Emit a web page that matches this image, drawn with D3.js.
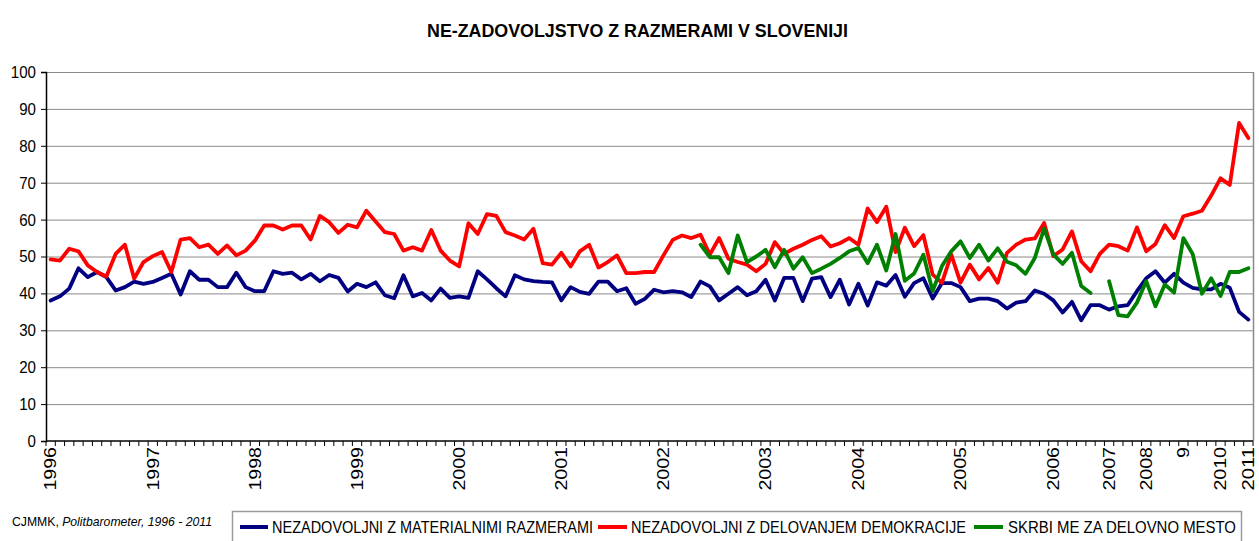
<!DOCTYPE html>
<html>
<head>
<meta charset="utf-8">
<script src="https://cdn.jsdelivr.net/npm/d3@7/dist/d3.min.js"></script>
<style>
  html, body { margin: 0; padding: 0; background: #fff; }
  svg { display: block; font-family: "Liberation Sans", Arial, sans-serif; }
</style>
</head>
<body>
<svg id="chart" width="1259" height="541"></svg>
<script>
// ---------- DATA ----------
const yearLabels = ["1996","1997","1998","1999","2000","2001","2002","2003","2004","2005","2006","2007","2008","9","2010","2011"];
const yearStart  = [0, 11, 22, 33, 44, 55, 66, 77, 87, 98, 108, 114, 118, 122, 126, 129];

const materialni = [
  38.1,39.2,41.3,46.8,44.4,45.8,44.4,40.8,41.7,43.2,42.6,43.1,44.2,45.3,39.7,46.0,43.7,43.7,41.7,41.7,
  45.6,41.7,40.6,40.6,46.0,45.3,45.6,43.8,45.3,43.3,45.0,44.2,40.5,42.6,41.7,43.0,39.5,38.7,44.9,39.2,
  40.1,38.1,41.3,38.8,39.2,38.8,46.0,43.8,41.4,39.2,44.9,43.8,43.3,43.1,43.0,38.1,41.7,40.4,39.9,43.2,
  43.2,40.6,41.4,37.2,38.5,41.0,40.3,40.6,40.3,39.0,43.2,41.9,38.1,39.9,41.7,39.5,40.6,43.7,38.1,44.2,
  44.2,37.9,44.0,44.4,39.0,43.7,37.0,42.6,36.7,43.0,42.1,45.0,39.1,42.8,44.1,38.6,42.8,42.8,41.7,37.9,
  38.6,38.6,37.9,35.9,37.5,37.9,40.8,39.9,38.1,34.8,37.7,32.7,36.8,36.8,35.6,36.5,36.8,40.6,44.1,46.0,
  42.9,45.3,42.9,41.5,41.1,41.1,42.6,41.5,35.0,32.9
];

const demokracija = [
  49.2,48.9,52.1,51.4,47.6,45.8,44.6,50.7,53.2,44.0,48.5,50.1,51.2,45.8,54.6,55.0,52.5,53.2,50.7,53.0,
  50.3,51.6,54.3,58.4,58.4,57.3,58.4,58.4,54.6,61.0,59.3,56.4,58.6,57.9,62.4,59.5,56.6,56.1,51.6,52.5,
  51.6,57.2,51.6,48.9,47.3,59.0,56.1,61.5,61.0,56.6,55.7,54.6,57.5,48.2,47.8,51.0,47.3,51.4,53.2,47.0,
  48.5,50.3,45.5,45.5,45.8,45.8,50.3,54.5,55.7,55.0,55.9,50.5,55.0,49.4,48.5,47.8,46.0,48.0,53.9,50.7,
  52.1,53.2,54.5,55.5,52.7,53.6,55.0,53.2,63.0,59.3,63.5,51.2,57.8,52.8,55.8,45.1,42.9,50.5,42.9,47.8,
  43.8,46.9,42.9,51.0,53.2,54.6,54.9,59.1,50.1,51.9,56.8,48.7,46.0,50.7,53.2,52.8,51.6,57.9,51.4,53.4,
  58.5,55.0,60.9,61.6,62.4,66.5,71.2,69.4,86.2,82.1
];

const delovnoMesto = [
  null,null,null,null,null,null,null,null,null,null,null,null,null,null,null,null,null,null,null,null,
  null,null,null,null,null,null,null,null,null,null,null,null,null,null,null,null,null,null,null,null,
  null,null,null,null,null,null,null,null,null,null,null,null,null,null,null,null,null,null,null,null,
  null,null,null,null,null,null,null,null,null,null,53.2,49.8,49.8,45.5,55.7,48.5,50.0,51.8,47.1,51.8,
  46.7,49.8,45.5,46.7,48.0,49.6,51.4,52.3,48.2,53.2,46.2,56.1,43.4,45.4,50.5,40.6,47.4,51.4,54.1,49.6,
  53.2,48.9,52.2,48.6,47.6,45.3,49.6,57.6,50.5,48.0,51.0,42.0,40.1,null,43.3,34.1,33.8,37.5,43.3,36.5,
  42.4,40.2,55.0,50.7,39.9,44.1,39.3,45.8,45.8,46.8
];

const seriesNames = ["NEZADOVOLJNI Z MATERIALNIMI RAZMERAMI", "NEZADOVOLJNI Z DELOVANJEM DEMOKRACIJE", "SKRBI ME ZA DELOVNO MESTO"];
const seriesColors = ["#000080", "#FF0000", "#008000"];
const yTicks = [0,10,20,30,40,50,60,70,80,90,100];
const titleText = "NE-ZADOVOLJSTVO Z RAZMERAMI V SLOVENIJI";

// ---------- CHART ----------
const svg = d3.select("#chart");
const L = 46, R = 1253, T = 72, B = 441;
const n = materialni.length;
const idx = d3.range(n);
const labelOf = new Map(yearStart.map((s, k) => [s, yearLabels[k]]));

const x = d3.scaleBand().domain(idx).range([L, R]).paddingInner(0).paddingOuter(0);
const y = d3.scaleLinear().domain([0, 100]).range([B, T]);
const cx = i => x(i) + x.bandwidth() / 2;

// title
svg.append("text")
  .attr("x", 637.5).attr("y", 37)
  .attr("text-anchor", "middle")
  .attr("font-weight", "bold")
  .attr("font-size", 17.5)
  .attr("textLength", 421).attr("lengthAdjust", "spacingAndGlyphs")
  .text(titleText);

// gridlines
svg.append("g").selectAll("line")
  .data(yTicks.filter(t => t > 0))
  .join("line")
  .attr("x1", L).attr("x2", R)
  .attr("y1", d => y(d) + 0.5).attr("y2", d => y(d) + 0.5)
  .attr("stroke", "#8a8a8a").attr("stroke-width", 1);

// right border of plot
svg.append("line")
  .attr("x1", R + 0.5).attr("x2", R + 0.5).attr("y1", T).attr("y2", B)
  .attr("stroke", "#8a8a8a").attr("stroke-width", 1.5);

// y axis
const yAxis = svg.append("g")
  .attr("transform", `translate(${L},0)`)
  .call(d3.axisLeft(y).tickValues(yTicks).tickSize(5).tickPadding(5));
yAxis.select(".domain").attr("stroke", "#000").attr("stroke-width", 1.5);
yAxis.selectAll(".tick line").attr("stroke", "#000");
yAxis.selectAll(".tick text")
  .attr("font-size", 17).attr("fill", "#000")
  .attr("font-family", "Liberation Sans, Arial, sans-serif")
  .attr("textLength", d => String(d).length * 8.4)
  .attr("lengthAdjust", "spacingAndGlyphs");

// x axis: ticks at category boundaries
const xAxisG = svg.append("g").attr("transform", `translate(0,${B})`);
xAxisG.append("line").attr("x1", L).attr("x2", R).attr("y1", 0).attr("y2", 0)
  .attr("stroke", "#000").attr("stroke-width", 1.5);
xAxisG.selectAll(".bt").data(idx.concat([n]))
  .join("line").attr("class", "bt")
  .attr("x1", i => (i < n ? x(i) : R)).attr("x2", i => (i < n ? x(i) : R))
  .attr("y1", 0).attr("y2", 5).attr("stroke", "#000").attr("stroke-width", 1);

const xAxis = d3.axisBottom(x)
  .tickValues(yearStart)
  .tickFormat(i => labelOf.get(i))
  .tickSize(0);
const xl = svg.append("g").attr("transform", `translate(0,${B})`).call(xAxis);
xl.select(".domain").remove();
xl.selectAll(".tick text")
  .attr("transform", "rotate(-90)")
  .attr("x", -6).attr("y", 0).attr("dy", "0.36em")
  .attr("text-anchor", "end")
  .attr("font-size", 16).attr("fill", "#000")
  .attr("font-family", "Liberation Sans, Arial, sans-serif")
  .attr("textLength", i => labelOf.get(i).length * 10.9)
  .attr("lengthAdjust", "spacingAndGlyphs");

// lines
const allSeries = [materialni, demokracija, delovnoMesto];
const line = d3.line()
  .defined(d => d != null)
  .x((d, i) => cx(i))
  .y(d => y(d));

svg.append("g").selectAll("path")
  .data(allSeries)
  .join("path")
  .attr("d", d => line(d))
  .attr("fill", "none")
  .attr("stroke", (d, k) => seriesColors[k])
  .attr("stroke-width", 3.8)
  .attr("stroke-linejoin", "round")
  .attr("stroke-linecap", "round");

// source note
const src = svg.append("text").attr("x", 12).attr("y", 526)
  .attr("font-size", 13.5).attr("textLength", 200).attr("lengthAdjust", "spacingAndGlyphs");
src.append("tspan").text("CJMMK, ");
src.append("tspan").attr("font-style", "italic").text("Politbarometer, 1996 - 2011");

// legend box (bottom edge falls outside the picture, as in the reference)
svg.append("path")
  .attr("d", "M232.5,541 V511.5 H1241.5 V541")
  .attr("fill", "#fff").attr("stroke", "#9a9a9a").attr("stroke-width", 1.5);

const legendItems = [
  { x0: 240, x1: 268, tx: 272, tw: 321 },
  { x0: 598, x1: 627, tx: 631, tw: 335 },
  { x0: 974, x1: 1003, tx: 1008, tw: 228 }
];
const lg = svg.append("g").selectAll("g").data(legendItems).join("g");
lg.append("line")
  .attr("x1", d => d.x0).attr("x2", d => d.x1)
  .attr("y1", 527).attr("y2", 527)
  .attr("stroke", (d, k) => seriesColors[k]).attr("stroke-width", 4);
lg.append("text")
  .attr("x", d => d.tx).attr("y", 532.5)
  .attr("font-size", 16.5)
  .attr("textLength", d => d.tw).attr("lengthAdjust", "spacingAndGlyphs")
  .text((d, k) => seriesNames[k]);
</script>
</body>
</html>
